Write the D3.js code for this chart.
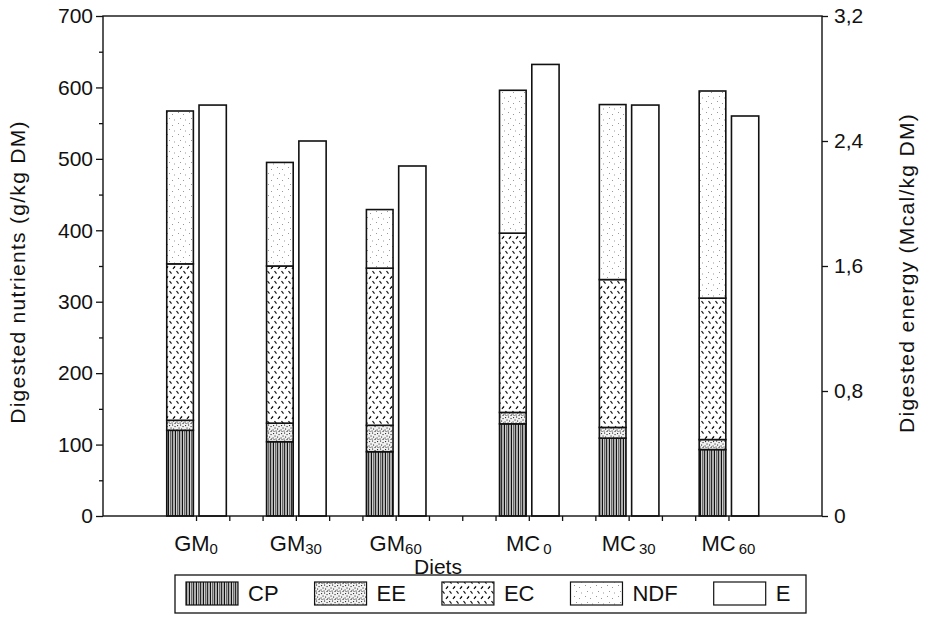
<!DOCTYPE html>
<html>
<head>
<meta charset="utf-8">
<script src="https://cdn.jsdelivr.net/npm/d3@7/dist/d3.min.js"></script>
<style>
  html, body { margin: 0; padding: 0; background: #fff; }
  svg { display: block; font-family: "Liberation Sans", Arial, Helvetica, sans-serif; }
</style>
</head>
<body>
<svg id="chart" width="926" height="628"></svg>
<script>
// ---------------- data ----------------
const diets = ["GM0", "GM30", "GM60", "MC0", "MC30", "MC60"];
const dietBase = ["GM", "GM", "GM", "MC", "MC", "MC"];
const dietSub = ["0", "30", "60", "0", "30", "60"];
const components = ["CP", "EE", "EC", "NDF"];
const CP  = [120, 104,  90, 129, 109,  93];
const EE  = [ 14,  26,  37,  16,  15,  14];
const EC  = [219, 220, 220, 251, 207, 198];
const NDF = [214, 145,  82, 200, 245, 290];
const energy = [2.63, 2.40, 2.24, 2.89, 2.63, 2.56];   // Mcal/kg DM
const leftTicks = [0, 100, 200, 300, 400, 500, 600, 700];
const leftMinorTicks = [50, 150, 250, 350, 450, 550, 650];
const rightTicks = [0, 0.8, 1.6, 2.4, 3.2];
const legendLabels = ["CP", "EE", "EC", "NDF", "E"];

// ---------------- layout ----------------
const svg = d3.select("#chart");
const plot = { left: 103, right: 822, top: 16, bottom: 516 };
const ink = "#111";

// slots: each diet has a stacked slot and an energy slot; one empty slot between diets,
// two between the GM and MC groups
const slots = [];
diets.forEach((d, i) => {
  slots.push(d + "|N", d + "|E");
  if (i < diets.length - 1) slots.push("gap" + i);
  if (d === "GM60") slots.push("gapGroup");
});
const x = d3.scaleBand().domain(slots).range([162.75, 761.75]).paddingInner(0).paddingOuter(0);
const yL = d3.scaleLinear().domain([0, 700]).range([plot.bottom, plot.top]);
const yR = d3.scaleLinear().domain([0, 3.2]).range([plot.bottom, plot.top]);

// ---------------- patterns ----------------
const defs = svg.append("defs");
// CP: dense vertical lines
const pCP = defs.append("pattern").attr("id", "pCP").attr("patternUnits", "userSpaceOnUse")
  .attr("width", 7).attr("height", 20);
pCP.append("rect").attr("width", 7).attr("height", 20).attr("fill", "#fff");
[0.6, 2.6, 4.3, 6.0].forEach((px, i) => pCP.append("line")
  .attr("x1", px).attr("x2", px).attr("y1", 0).attr("y2", 20)
  .attr("stroke", i % 2 ? "#444" : "#111").attr("stroke-width", i % 2 ? 0.9 : 1.2));
// EE: dense speckle
const pEE = defs.append("pattern").attr("id", "pEE").attr("patternUnits", "userSpaceOnUse")
  .attr("width", 8).attr("height", 8);
pEE.append("rect").attr("width", 8).attr("height", 8).attr("fill", "#f2f2f2");
[[1,1],[4,0.5],[6.5,2],[2.5,3.5],[5,4.5],[0.5,5.5],[3.5,6.5],[7,6.5],[6,7.5],[1.5,7.2]]
  .forEach(([cx, cy]) => pEE.append("rect").attr("x", cx).attr("y", cy)
    .attr("width", 1.1).attr("height", 1.1).attr("fill", "#333"));
// EC: small slanted dashes, rows alternating direction
const pEC = defs.append("pattern").attr("id", "pEC").attr("patternUnits", "userSpaceOnUse")
  .attr("width", 7).attr("height", 10);
pEC.append("rect").attr("width", 7).attr("height", 10).attr("fill", "#fff");
pEC.append("line").attr("x1", 1.5).attr("y1", 1.0).attr("x2", 3.5).attr("y2", 3.6)
  .attr("stroke", ink).attr("stroke-width", 1.2);
pEC.append("line").attr("x1", 5.0).attr("y1", 8.8).attr("x2", 7.0).attr("y2", 6.2)
  .attr("stroke", ink).attr("stroke-width", 1.2);
pEC.append("line").attr("x1", -2.0).attr("y1", 8.8).attr("x2", 0.0).attr("y2", 6.2)
  .attr("stroke", ink).attr("stroke-width", 1.2);
// NDF: sparse light dots
const pNDF = defs.append("pattern").attr("id", "pNDF").attr("patternUnits", "userSpaceOnUse")
  .attr("width", 11).attr("height", 11);
pNDF.append("rect").attr("width", 11).attr("height", 11).attr("fill", "#fff");
[[2,2],[7,4],[4,8],[9,9.5]].forEach(([cx, cy]) => pNDF.append("rect")
  .attr("x", cx).attr("y", cy).attr("width", 1).attr("height", 1).attr("fill", "#999"));

const fills = { CP: "url(#pCP)", EE: "url(#pEE)", EC: "url(#pEC)", NDF: "url(#pNDF)", E: "#fff" };

// ---------------- bars ----------------
const rows = diets.map((d, i) => ({ diet: d, CP: CP[i], EE: EE[i], EC: EC[i], NDF: NDF[i], E: energy[i] }));
const stack = d3.stack().keys(components)(rows);
const bw = x.bandwidth();

const gBars = svg.append("g");
stack.forEach(layer => {
  gBars.selectAll(null).data(layer).enter().append("rect")
    .attr("x", d => x(d.data.diet + "|N") + bw * 0.12)
    .attr("width", bw * 0.80)
    .attr("y", d => yL(d[1]))
    .attr("height", d => yL(d[0]) - yL(d[1]))
    .attr("fill", fills[layer.key])
    .attr("stroke", ink).attr("stroke-width", 1.6);
});
gBars.selectAll(null).data(rows).enter().append("rect")
  .attr("x", d => x(d.diet + "|E") + bw * 0.09)
  .attr("width", bw * 0.82)
  .attr("y", d => yR(d.E))
  .attr("height", d => yR(0) - yR(d.E))
  .attr("fill", fills.E)
  .attr("stroke", ink).attr("stroke-width", 1.6);

// ---------------- axes ----------------
const axL = d3.axisLeft(yL).tickValues(leftTicks).tickSize(7).tickPadding(3)
  .tickFormat(d3.format("d"));
const gL = svg.append("g").attr("transform", `translate(${plot.left},0)`).call(axL);
gL.select(".domain").remove();
const axLm = d3.axisLeft(yL).tickValues(leftMinorTicks).tickSize(4).tickFormat("");
const gLm = svg.append("g").attr("transform", `translate(${plot.left},0)`).call(axLm);
gLm.select(".domain").remove();

const axR = d3.axisRight(yR).tickValues(rightTicks).tickSize(6).tickPadding(6)
  .tickFormat(d => d3.format(".1f")(d).replace(".", ",").replace(/^0,0$/, "0"));
const gR = svg.append("g").attr("transform", `translate(${plot.right},0)`).call(axR);
gR.select(".domain").remove();

// x ticks at slot boundaries (interior only)
const boundaries = slots.slice(1).map(s => x(s));
const axB = d3.axisBottom(d3.scaleIdentity()).tickValues(boundaries).tickSize(5).tickFormat("");
const gB = svg.append("g").attr("transform", `translate(0,${plot.bottom})`).call(axB);
gB.select(".domain").remove();

[gL, gLm, gR, gB].forEach(g => {
  g.selectAll("line").attr("stroke", ink).attr("stroke-width", 1.3);
  g.selectAll("text").attr("fill", ink).style("font-size", "21px");
});

// frame
svg.append("rect").attr("x", plot.left).attr("y", plot.top)
  .attr("width", plot.right - plot.left).attr("height", plot.bottom - plot.top)
  .attr("fill", "none").attr("stroke", ink).attr("stroke-width", 1.4);

// category labels with subscripts
const gCat = svg.append("g");
diets.forEach((d, i) => {
  const t = gCat.append("text")
    .attr("x", x(d + "|E"))
    .attr("y", 551)
    .attr("text-anchor", "middle")
    .attr("fill", ink)
    .style("font-size", "22px");
  t.append("tspan").text(dietBase[i]);
  t.append("tspan").attr("dx", dietBase[i] === "MC" ? 3 : 0).attr("dy", 3)
    .style("font-size", "15px").text(dietSub[i]);
});

// axis titles
svg.append("text").attr("transform", "translate(25,272) rotate(-90)")
  .attr("text-anchor", "middle").attr("fill", ink).style("font-size", "21px")
  .style("letter-spacing", "1.3px")
  .text("Digested nutrients (g/kg DM)");
svg.append("text").attr("transform", "translate(914,273) rotate(-90)")
  .attr("text-anchor", "middle").attr("fill", ink).style("font-size", "21px")
  .style("letter-spacing", "1.3px")
  .text("Digested energy (Mcal/kg DM)");
svg.append("text").attr("x", 438).attr("y", 574).attr("text-anchor", "middle")
  .attr("fill", ink).style("font-size", "21px").text("Diets");

// ---------------- legend ----------------
const leg = svg.append("g");
leg.append("rect").attr("x", 175).attr("y", 575).attr("width", 631).attr("height", 38)
  .attr("fill", "#fff").attr("stroke", ink).attr("stroke-width", 1.3);
let lx = 186;
legendLabels.forEach(k => {
  leg.append("rect").attr("x", lx).attr("y", 582).attr("width", 52).attr("height", 23)
    .attr("fill", fills[k]).attr("stroke", ink).attr("stroke-width", 1.2);
  const t = leg.append("text").attr("x", lx + 62).attr("y", 601).attr("fill", ink)
    .style("font-size", "22px").text(k);
  lx = lx + 62 + t.node().getComputedTextLength() + 36;
});
</script>
</body>
</html>
